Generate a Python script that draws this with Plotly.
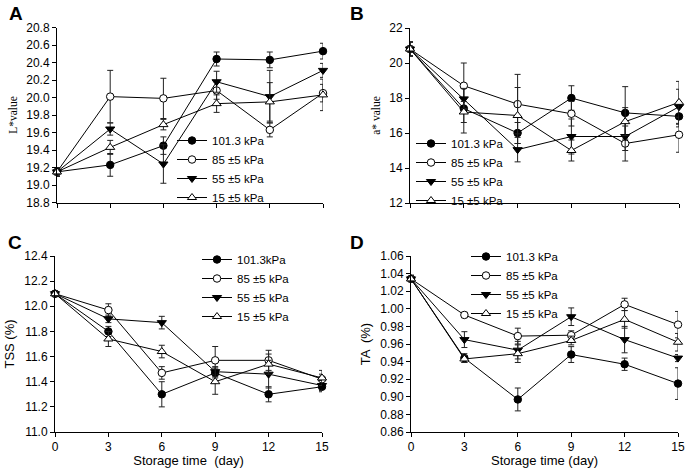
import plotly.graph_objects as go

days = [0, 3, 6, 9, 12, 15]
x_ticks = [0, 3, 6, 9, 12, 15]

labels_std = ["101.3 kPa", "85 \u00b15 kPa", "55 \u00b15 kPa", "15 \u00b15 kPa"]
labels_c = ["101.3kPa", "85 \u00b15 kPa", "55 \u00b15 kPa", "15 \u00b15 kPa"]

# Panel A: L* value
a101 = [19.15, 19.23, 19.45, 20.44, 20.43, 20.53]
a101e = [0.05, 0.13, 0.10, 0.08, 0.09, 0.09]
a85 = [19.15, 20.01, 19.99, 20.08, 19.63, 20.05]
a85e = [0.05, 0.30, 0.23, 0.10, 0.08, 0.10]
a55 = [19.15, 19.64, 19.24, 20.18, 20.01, 20.31]
a55e = [0.05, 0.07, 0.22, 0.12, 0.30, 0.08]
a15 = [19.15, 19.43, 19.69, 19.93, 19.95, 20.03]
a15e = [0.05, 0.08, 0.06, 0.10, 0.22, 0.18]

# Panel B: a* value
b101 = [20.8, 17.4, 16.0, 18.0, 17.15, 16.95]
b101e = [0.4, 1.4, 0.6, 0.7, 1.5, 0.6]
b85 = [20.8, 18.7, 17.65, 17.1, 15.4, 15.9]
b85e = [0.4, 1.3, 1.7, 0.7, 1.0, 1.0]
b55 = [20.8, 17.95, 15.05, 15.8, 15.8, 17.5]
b55e = [0.4, 0.6, 0.7, 1.0, 0.8, 1.0]
b15 = [20.8, 17.2, 17.0, 15.0, 16.65, 17.75]
b15e = [0.4, 0.6, 1.6, 0.6, 0.8, 1.2]

# Panel C: TSS (%)
c101 = [12.1, 11.80, 11.30, 11.47, 11.30, 11.36]
c101e = [0.02, 0.04, 0.10, 0.04, 0.06, 0.04]
c85 = [12.1, 11.97, 11.47, 11.57, 11.57, 11.42]
c85e = [0.02, 0.05, 0.05, 0.11, 0.08, 0.04]
c55 = [12.1, 11.90, 11.87, 11.48, 11.46, 11.37]
c55e = [0.02, 0.03, 0.05, 0.04, 0.11, 0.04]
c15 = [12.1, 11.74, 11.64, 11.40, 11.54, 11.43]
c15e = [0.02, 0.06, 0.05, 0.10, 0.08, 0.06]

# Panel D: TA (%)
d101 = [1.034, 0.944, 0.897, 0.948, 0.937, 0.915]
d101e = [0.004, 0.005, 0.013, 0.009, 0.007, 0.018]
d85 = [1.034, 0.993, 0.969, 0.970, 1.005, 0.982]
d85e = [0.004, 0.003, 0.009, 0.005, 0.007, 0.015]
d55 = [1.034, 0.965, 0.953, 0.991, 0.965, 0.944]
d55e = [0.004, 0.009, 0.010, 0.010, 0.015, 0.004]
d15 = [1.034, 0.943, 0.949, 0.964, 0.988, 0.962]
d15e = [0.004, 0.004, 0.010, 0.005, 0.010, 0.010]

W, H = 685, 468

symbols = [
    dict(symbol="circle", color="black", size=7.5, line=dict(color="black", width=1)),
    dict(symbol="circle", color="white", size=7.5, line=dict(color="black", width=1)),
    dict(symbol="triangle-down", color="black", size=8, line=dict(color="black", width=1)),
    dict(symbol="triangle-up", color="white", size=8, line=dict(color="black", width=1)),
]

panels = [
    dict(series=[(a101, a101e), (a85, a85e), (a55, a55e), (a15, a15e)], labels=labels_std,
         xa="x", ya="y", leg="legend"),
    dict(series=[(b101, b101e), (b85, b85e), (b55, b55e), (b15, b15e)], labels=labels_std,
         xa="x2", ya="y2", leg="legend2"),
    dict(series=[(c101, c101e), (c85, c85e), (c55, c55e), (c15, c15e)], labels=labels_c,
         xa="x3", ya="y3", leg="legend3"),
    dict(series=[(d101, d101e), (d85, d85e), (d55, d55e), (d15, d15e)], labels=labels_std,
         xa="x4", ya="y4", leg="legend4"),
]

fig = go.Figure()
for p in panels:
    for (vals, errs), lab, mk in zip(p["series"], p["labels"], symbols):
        fig.add_trace(go.Scatter(
            x=days, y=vals, name=lab, mode="lines+markers",
            line=dict(color="black", width=1),
            marker=mk,
            error_y=dict(type="data", array=errs, visible=True, color="#222",
                         thickness=1, width=3),
            xaxis=p["xa"], yaxis=p["ya"], legend=p["leg"], cliponaxis=False,
        ))

def px_x(v):
    return v / W

def px_y(v):
    return 1 - v / H

tickfont = dict(family="Liberation Sans, Arial, sans-serif", size=12, color="black")

def xaxis(dom, anchor, labels_on, title=None):
    d = dict(domain=dom, anchor=anchor, range=[0, 15], tickvals=x_ticks,
             showticklabels=labels_on, ticks="outside", ticklen=4, tickcolor="black",
             showline=True, linecolor="black", linewidth=1, showgrid=False,
             zeroline=False, tickfont=tickfont, fixedrange=True, automargin=False)
    if title:
        d["title"] = dict(text=title, font=dict(family="Liberation Sans, Arial, sans-serif",
                                                 size=13, color="black"), standoff=3)
    return d

def yaxis(dom, anchor, rng, dtick, fmt, title, tfont):
    return dict(domain=dom, anchor=anchor, range=rng, dtick=dtick, tick0=rng[0],
                tickformat=fmt, ticks="outside", ticklen=4, tickcolor="black",
                showline=True, linecolor="black", linewidth=1, showgrid=False,
                zeroline=False, tickfont=tickfont, fixedrange=True, automargin=False,
                title=dict(text=title, font=tfont, standoff=6))

serif = dict(family="Liberation Serif, Times New Roman, serif", size=11.5, color="black")
sans = dict(family="Liberation Sans, Arial, sans-serif", size=13, color="black")

xA = [px_x(57), px_x(323)]
xB = [px_x(410), px_x(679)]
xC = [px_x(55), px_x(322)]
xD = [px_x(411), px_x(678)]
yTop = [px_y(202.5), px_y(27.5)]
yTopB = [px_y(203), px_y(28)]
yBot = [px_y(432), px_y(256)]

legfont = dict(family="Liberation Sans, Arial, sans-serif", size=11.5, color="black")

def legend(x, y):
    return dict(x=x, y=y, xanchor="left", yanchor="top", xref="paper", yref="paper",
                bgcolor="rgba(0,0,0,0)", borderwidth=0, font=legfont,
                tracegroupgap=0, itemclick=False, itemdoubleclick=False)

fig.update_layout(
    width=W, height=H, margin=dict(l=0, r=0, t=0, b=0, autoexpand=False),
    paper_bgcolor="white", plot_bgcolor="white", showlegend=True,
    xaxis=xaxis(xA, "y", False),
    yaxis=yaxis(yTop, "x", [18.8, 20.8], 0.2, ".1f", "L*value", serif),
    xaxis2=xaxis(xB, "y2", False),
    yaxis2=yaxis(yTopB, "x2", [12, 22], 2, "d", "a* value", serif),
    xaxis3=xaxis(xC, "y3", True, "Storage time  (day)"),
    yaxis3=yaxis(yBot, "x3", [11.0, 12.4], 0.2, ".1f", "TSS (%)", sans),
    xaxis4=xaxis(xD, "y4", True, "Storage time (day)"),
    yaxis4=yaxis(yBot, "x4", [0.86, 1.06], 0.02, ".2f", "TA  (%)", sans),
    legend=legend(px_x(172), px_y(126)),
    legend2=legend(px_x(411), px_y(129)),
    legend3=legend(px_x(197), px_y(245)),
    legend4=legend(px_x(466), px_y(242)),
)

letters = [("A", 7, 1), ("B", 348, 1), ("C", 6, 230), ("D", 348, 230)]
for t, xx, yy in letters:
    fig.add_annotation(text="<b>%s</b>" % t, x=px_x(xx), y=px_y(yy), xref="paper", yref="paper",
                       xanchor="left", yanchor="top", showarrow=False,
                       font=dict(family="Liberation Sans, Arial, sans-serif", size=19, color="black"))

fig.write_html("out.html", config={"displayModeBar": False},
               post_script="document.body.style.margin='0px';")
